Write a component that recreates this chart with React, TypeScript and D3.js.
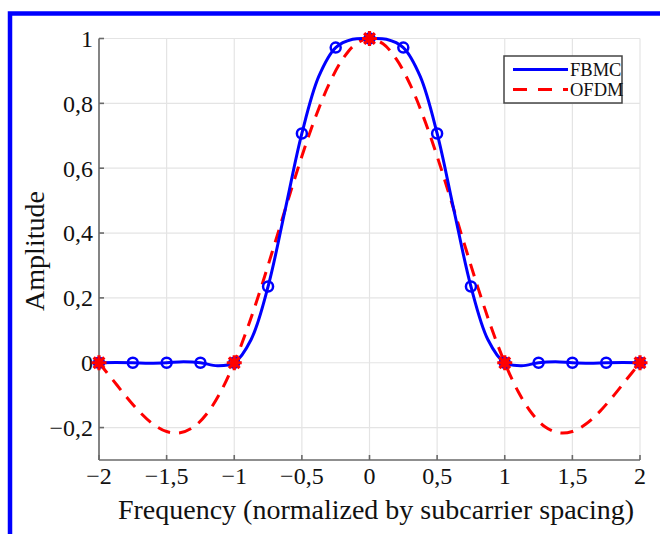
import React from "react";
import * as d3 from "d3";

// frequency grid (normalized by subcarrier spacing) and read-off amplitudes
const fbmcFreq = [-2, -1.875, -1.75, -1.625, -1.5, -1.375, -1.25, -1.125, -1, -0.875, -0.75, -0.625, -0.5, -0.375, -0.25, -0.125, 0,
  0.125, 0.25, 0.375, 0.5, 0.625, 0.75, 0.875, 1, 1.125, 1.25, 1.375, 1.5, 1.625, 1.75, 1.875, 2];
const fbmcAmp = [0, 0.0006, 0, -0.0013, 0, 0.0029, 0, -0.0091, 0, 0.0718, 0.2351, 0.4689, 0.7071, 0.8829, 0.972, 0.9977, 1,
  0.9977, 0.972, 0.8829, 0.7071, 0.4689, 0.2351, 0.0718, 0, -0.0091, 0, 0.0029, 0, -0.0013, 0, 0.0006, 0];

const ofdmFreq = [-2, -1.9, -1.8, -1.7, -1.6, -1.5, -1.4, -1.3, -1.2, -1.1, -1, -0.9, -0.8, -0.7, -0.6, -0.5, -0.4, -0.3, -0.2, -0.1, 0,
  0.1, 0.2, 0.3, 0.4, 0.5, 0.6, 0.7, 0.8, 0.9, 1, 1.1, 1.2, 1.3, 1.4, 1.5, 1.6, 1.7, 1.8, 1.9, 2];
const ofdmAmp = [0, -0.0518, -0.1039, -0.1515, -0.1892, -0.2122, -0.2162, -0.1981, -0.1559, -0.0894, 0,
  0.1093, 0.2339, 0.3679, 0.5046, 0.6366, 0.7568, 0.8584, 0.9355, 0.9836, 1,
  0.9836, 0.9355, 0.8584, 0.7568, 0.6366, 0.5046, 0.3679, 0.2339, 0.1093, 0,
  -0.0894, -0.1559, -0.1981, -0.2162, -0.2122, -0.1892, -0.1515, -0.1039, -0.0518, 0];

// marker positions
const fbmcMarkFreq = [-2, -1.75, -1.5, -1.25, -1, -0.75, -0.5, -0.25, 0, 0.25, 0.5, 0.75, 1, 1.25, 1.5, 1.75, 2];
const ofdmMarkFreq = [-2, -1, 0, 1, 2];

const xTicks = [-2, -1.5, -1, -0.5, 0, 0.5, 1, 1.5, 2];
const xTickLabels = ["−2", "−1,5", "−1", "−0,5", "0", "0,5", "1", "1,5", "2"];
const yTicks = [-0.2, 0, 0.2, 0.4, 0.6, 0.8, 1];
const yTickLabels = ["−0,2", "0", "0,2", "0,4", "0,6", "0,8", "1"];

const seriesNames = ["FBMC", "OFDM"];

const W = 660;
const H = 534;
const left = 99;
const right = 640;
const top = 38.5;
const bottom = 460;
const serif = "'Liberation Serif', 'Times New Roman', serif";

export default function App() {
  const x = d3.scaleLinear().domain([-2, 2]).range([left, right]);
  const y = d3.scaleLinear().domain([-0.3, 1]).range([bottom, top]);

  const line = d3
    .line<[number, number]>()
    .x(d => x(d[0]))
    .y(d => y(d[1]))
    .curve(d3.curveCatmullRom.alpha(0.5));

  const fbmcPts = fbmcFreq.map((f, i) => [f, fbmcAmp[i]] as [number, number]);
  const ofdmPts = ofdmFreq.map((f, i) => [f, ofdmAmp[i]] as [number, number]);
  const fbmcAt = (f: number) => fbmcAmp[fbmcFreq.indexOf(f)];
  const ofdmAt = (f: number) => ofdmAmp[ofdmFreq.indexOf(f)];

  // matlab style asterisk
  const star = (cx: number, cy: number, r: number) => {
    const d = r * Math.SQRT1_2;
    return `M${cx - r},${cy}L${cx + r},${cy}M${cx},${cy - r}L${cx},${cy + r}` +
      `M${cx - d},${cy - d}L${cx + d},${cy + d}M${cx - d},${cy + d}L${cx + d},${cy - d}`;
  };

  return (
    <svg width={W} height={H} style={{ position: "absolute", left: 0, top: 0, background: "#fff" }}>
      {/* outer blue frame */}
      <rect x={10} y={13.5} width={700} height={600} fill="#fff" stroke="#0000ff" strokeWidth={4.5} />

      {/* grid */}
      <g stroke="#e4e4e4" strokeWidth={1.2}>
        {xTicks.map(t => (
          <line key={"gx" + t} x1={x(t)} x2={x(t)} y1={top} y2={bottom} />
        ))}
        {yTicks.map(t => (
          <line key={"gy" + t} x1={left} x2={right} y1={y(t)} y2={y(t)} />
        ))}
      </g>

      {/* axes */}
      <g stroke="#6a6a6a" strokeWidth={1.6}>
        <line x1={left} x2={left} y1={top} y2={bottom} />
        <line x1={left} x2={right} y1={bottom} y2={bottom} />
        {xTicks.map(t => (
          <line key={"tx" + t} x1={x(t)} x2={x(t)} y1={bottom} y2={bottom - 5} />
        ))}
        {yTicks.map(t => (
          <line key={"ty" + t} x1={left} x2={left + 5} y1={y(t)} y2={y(t)} />
        ))}
      </g>

      <g fontFamily={serif} fontSize={24} fill="#111">
        {xTicks.map((t, i) => (
          <text key={"lx" + t} x={x(t)} y={484} textAnchor="middle">{xTickLabels[i]}</text>
        ))}
        {yTicks.map((t, i) => (
          <text key={"ly" + t} x={93} y={y(t)} dy="0.35em" textAnchor="end">{yTickLabels[i]}</text>
        ))}
      </g>

      <text x={376} y={519} textAnchor="middle" fontFamily={serif} fontSize={28} fill="#111">
        Frequency (normalized by subcarrier spacing)
      </text>
      <text transform="translate(44, 251) rotate(-90)" textAnchor="middle"
        fontFamily={serif} fontSize={28} fill="#111">
        Amplitude
      </text>

      {/* curves */}
      <path d={line(ofdmPts) || ""} fill="none" stroke="#ff0000" strokeWidth={3} strokeDasharray="13 9" />
      <path d={line(fbmcPts) || ""} fill="none" stroke="#0000ff" strokeWidth={3} />

      {fbmcMarkFreq.map(f => (
        <circle key={"c" + f} cx={x(f)} cy={y(fbmcAt(f))} r={5} fill="none" stroke="#0000ff" strokeWidth={2.5} />
      ))}
      {ofdmMarkFreq.map(f => (
        <path key={"s" + f} d={star(x(f), y(ofdmAt(f)), 7.5)} stroke="#ff0000" strokeWidth={3.2} fill="none" />
      ))}

      {/* legend */}
      <g>
        <rect x={504} y={56} width={118} height={47} fill="#fff" stroke="#444" strokeWidth={1.5} />
        <line x1={513} x2={568} y1={69.5} y2={69.5} stroke="#0000ff" strokeWidth={3} />
        <line x1={513} x2={568} y1={89.5} y2={89.5} stroke="#ff0000" strokeWidth={3} strokeDasharray="14 11" />
        <text x={570} y={76} fontFamily={serif} fontSize={18.5} fill="#111">{seriesNames[0]}</text>
        <text x={570} y={96} fontFamily={serif} fontSize={18.5} fill="#111">{seriesNames[1]}</text>
      </g>
    </svg>
  );
}
